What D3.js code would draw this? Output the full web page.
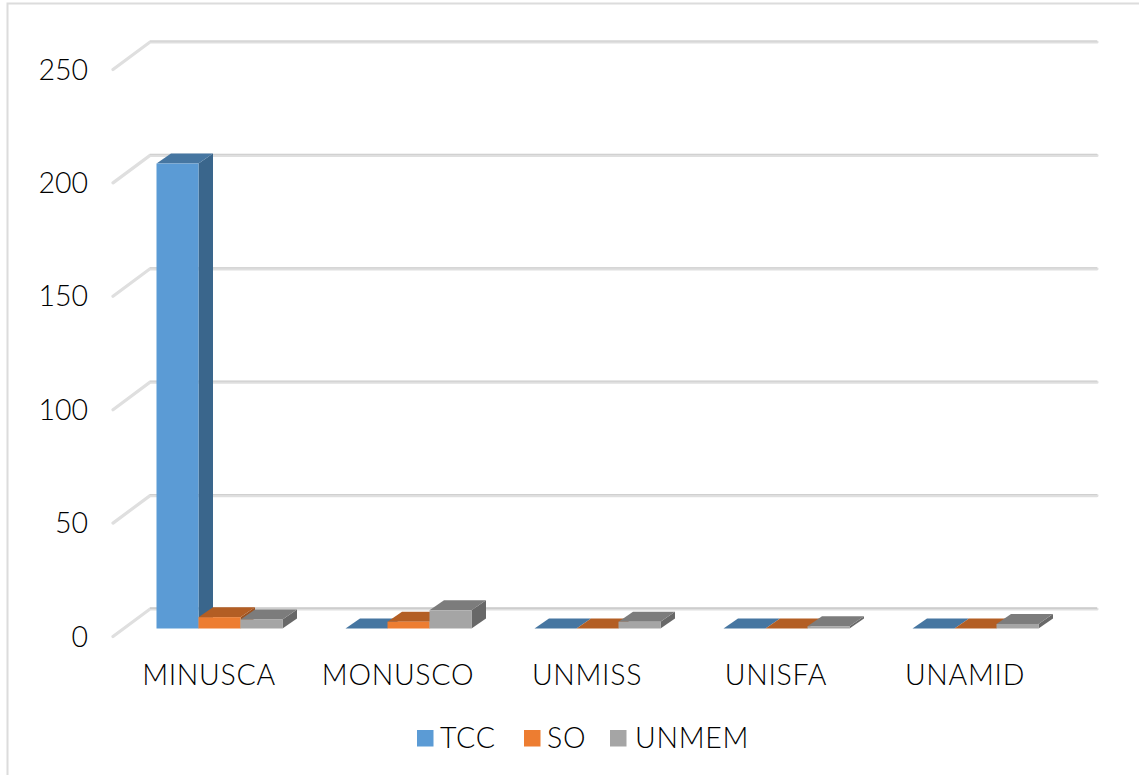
<!DOCTYPE html>
<html><head><meta charset="utf-8">
<style>html,body{margin:0;padding:0;background:#fff}svg{display:block}
text{font-family:Lato,"Open Sans",sans-serif;font-weight:300;fill:#000}</style>
<script src="https://cdn.jsdelivr.net/npm/d3@7/dist/d3.min.js"></script></head>
<body><svg id="c" width="1139" height="775"></svg>
<script>
const categories = ["MINUSCA","MONUSCO","UNMISS","UNISFA","UNAMID"];
const seriesNames = ["TCC","SO","UNMEM"];
const TCC = [205,0,0,0,0];
const SO = [5,3,0,0,0];
const UNMEM = [4,8,3,1,2];
const yTicks = [0,50,100,150,200,250];
const front = ["#5b9bd5","#ed7d31","#a5a5a5"];
const topC = ["#4676a1","#b35e24","#7c7c7c"];
const sideC = ["#3a668c","#9c5220","#686868"];
const series = [TCC,SO,UNMEM];

const svg = d3.select("#c");
const wallDx = 37, wallDy = -27.5;
const x = d3.scaleBand().domain(categories).range([113,1058]);
const y = d3.scaleLinear().domain([0,250]).range([636.5,69.5]);
const barDx = 12, barDy = -8, depthX = 14.5, depthY = -10, barW = 42;
const x1 = d3.scaleBand().domain(d3.range(3)).range([0,barW*3]);
const barStart = c => x(c) + (x.bandwidth()-barW*3)/2 + barDx;

// frame
svg.append("path").attr("d","M7.5,775V3.5H1139").attr("fill","none").attr("stroke","#dcdcdc").attr("stroke-width",2);

// gridlines
const g = svg.append("g");
yTicks.forEach(t=>{
  const y0=y(t), x0=x.range()[0];
  const d=`M${x0},${y0}L${x0+wallDx},${y0+wallDy}L1097,${y0+wallDy}`;
  g.append("path").attr("d",d).attr("fill","none").attr("stroke","#dfdfdf").attr("stroke-width",3.2).attr("stroke-linecap","round");
  g.append("path").attr("d",`M${x0+wallDx},${y0+wallDy-1}L1097,${y0+wallDy-1}`).attr("stroke",t===0?"#bcbcbc":"#cfcfcf").attr("stroke-width",1);
});

// bars
categories.forEach((c,i)=>{
  series.forEach((s,k)=>{
    const x0=barStart(c)+x1(k), x2=x0+x1.bandwidth();
    const base=y(0)+barDy, top=y(s[i])+barDy;
    const b=svg.append("g");
    b.append("path").attr("d",`M${x2},${top}L${x2+depthX},${top+depthY}L${x2+depthX},${base+depthY}L${x2},${base}Z`).attr("fill",sideC[k]);
    b.append("path").attr("d",`M${x0},${top}L${x0+depthX},${top+depthY}L${x2+depthX},${top+depthY}L${x2},${top}Z`).attr("fill",topC[k]);
    if(s[i]>0) b.append("rect").attr("x",x0).attr("y",top).attr("width",x1.bandwidth()).attr("height",base-top).attr("fill",front[k]);
  });
});

// y labels
svg.append("g").selectAll("text").data(yTicks).join("text")
  .attr("x",88).attr("y",d=>y(d)+10).attr("text-anchor","end").attr("font-size",28.5).text(d=>d);
// x labels
svg.append("g").selectAll("text").data(categories).join("text")
  .attr("x",c=>x(c)+x.bandwidth()/2+1.5).attr("y",685).attr("text-anchor","middle").attr("font-size",28.5).attr("letter-spacing",0.7).text(d=>d);

// legend
const legendX=[417,524,610], legendT=[440,547,635];
seriesNames.forEach((n,k)=>{
  svg.append("rect").attr("x",legendX[k]).attr("y",730).attr("width",16.5).attr("height",16.5).attr("fill",front[k]);
  svg.append("text").attr("x",legendT[k]).attr("y",748).attr("font-size",28.5).attr("letter-spacing",0.7).text(n);
});
</script></body></html>
